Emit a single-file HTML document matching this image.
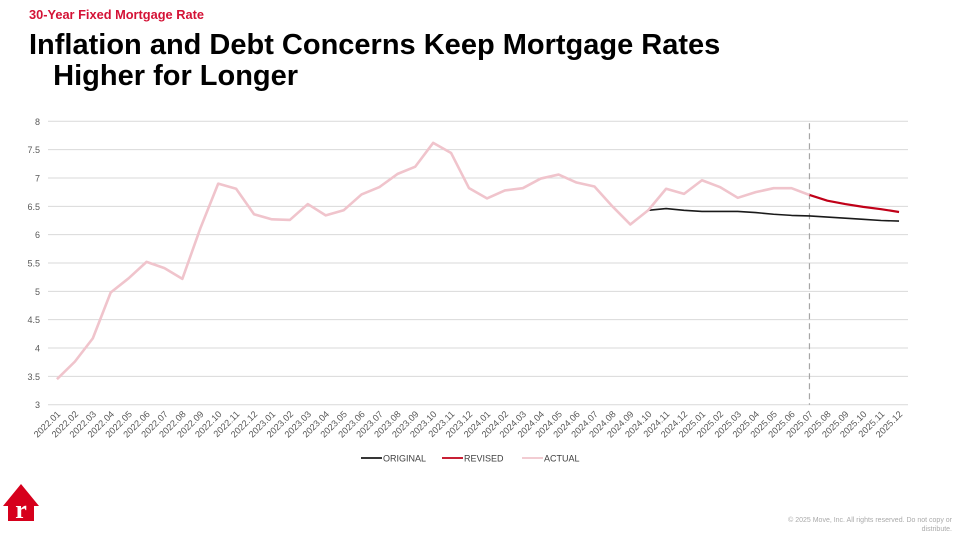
<!DOCTYPE html>
<html><head><meta charset="utf-8"><style>
body{margin:0;width:960px;height:544px;background:#fff;overflow:hidden;position:relative;font-family:"Liberation Sans",sans-serif}
.sub{position:absolute;left:29px;top:7px;font-size:12.8px;font-weight:bold;color:#d41236}
.title{position:absolute;left:29px;top:30px;font-size:29px;font-weight:bold;color:#000;line-height:31px}
.foot{position:absolute;right:8px;top:516px;font-size:7px;color:#aaa;text-align:right;line-height:9px}
</style></head><body>
<div class="sub">30-Year Fixed Mortgage Rate</div>
<div class="title">Inflation and Debt Concerns Keep Mortgage Rates<br>&nbsp;&nbsp;&nbsp;Higher for Longer</div>
<svg width="960" height="544" style="position:absolute;left:0;top:0" id="chart"></svg>
<svg style="position:absolute;left:2px;top:484px" width="38" height="38"><polygon points="19,0 37,22 32,22 32,37 6,37 6,22 1,22" fill="#d6001c"/><text x="19" y="34" font-family="Liberation Serif,serif" font-size="26" font-weight="bold" fill="#fff" text-anchor="middle">r</text></svg>
<div class="foot">© 2025 Move, Inc. All rights reserved. Do not copy or<br>distribute.</div>
<script>
const categories=[];for(let y=2022;y<=2025;y++)for(let m=1;m<=12;m++)categories.push(y+'.'+String(m).padStart(2,'0'));
const actual=[3.45,3.76,4.17,4.98,5.23,5.52,5.41,5.22,6.11,6.90,6.81,6.36,6.27,6.26,6.54,6.34,6.43,6.71,6.84,7.07,7.20,7.62,7.44,6.82,6.64,6.78,6.82,6.99,7.06,6.92,6.85,6.50,6.18,6.43,6.81,6.72,6.96,6.84,6.65,6.75,6.82,6.82,6.70];
const revisedStart=42;
const revised=[6.70,6.60,6.54,6.49,6.45,6.40];
const originalStart=33;
const original=[6.43,6.46,6.43,6.41,6.41,6.41,6.39,6.36,6.34,6.33,6.31,6.29,6.27,6.25,6.24];
const yTicks=[3,3.5,4,4.5,5,5.5,6,6.5,7,7.5,8];
const dividerIndex=42;
const svg=document.getElementById('chart');const NS='http://www.w3.org/2000/svg';
const L=48,R=908,T=121.3,B=404.7,ymin=3,ymax=8;
const bw=(R-L)/categories.length;
const X=i=>L+bw*(i+0.5);
const Y=v=>B-(v-ymin)/(ymax-ymin)*(B-T);
function mk(t,a){const e=document.createElementNS(NS,t);for(const k in a)e.setAttribute(k,a[k]);svg.appendChild(e);return e;}
yTicks.forEach(v=>{
 const g=mk('line',{x1:L,x2:R,y1:Y(v),y2:Y(v),stroke:'#d9d9d9','stroke-width':1});
 
 
 const t=mk('text',{x:40,y:Y(v)+3.5,'font-size':9,fill:'#595959','text-anchor':'end'});t.textContent=v;
 
 
});
categories.forEach((c,i)=>{
 const x=X(i)+4,y=B+10;
 const t=mk('text',{x:x,y:y,'font-size':9.2,fill:'#595959','text-anchor':'end',transform:`rotate(-45 ${x} ${y})`});t.textContent=c;
 
 
});
const dv=mk('line',{x1:X(dividerIndex),x2:X(dividerIndex),y1:T+2,y2:B,stroke:'#a6a6a6','stroke-width':1.2,'stroke-dasharray':'6,4'});


function line(vals,start,color,w,name){
 const p=mk('polyline',{points:vals.map((v,i)=>X(start+i)+','+Y(v)).join(' '),fill:'none',stroke:color,'stroke-width':w,'stroke-linejoin':'round'});
 
 
}
line(original,originalStart,'#1a1a1a',1.6,'original-series');
line(revised,revisedStart,'#c00018',2.2,'revised-series');
line(actual,0,'#f0c4cc',2.6,'actual-series');
const leg=[['ORIGINAL','#1a1a1a',361],['REVISED','#c00018',442],['ACTUAL','#f0c4cc',522]];
leg.forEach(([n,c,x])=>{
 const l=mk('line',{x1:x,x2:x+21,y1:458,y2:458,stroke:c,'stroke-width':1.8});
 
 
 const t=mk('text',{x:x+22,y:461.5,'font-size':9,fill:'#404040'});t.textContent=n;
 
 
});
</script>
</body></html>
